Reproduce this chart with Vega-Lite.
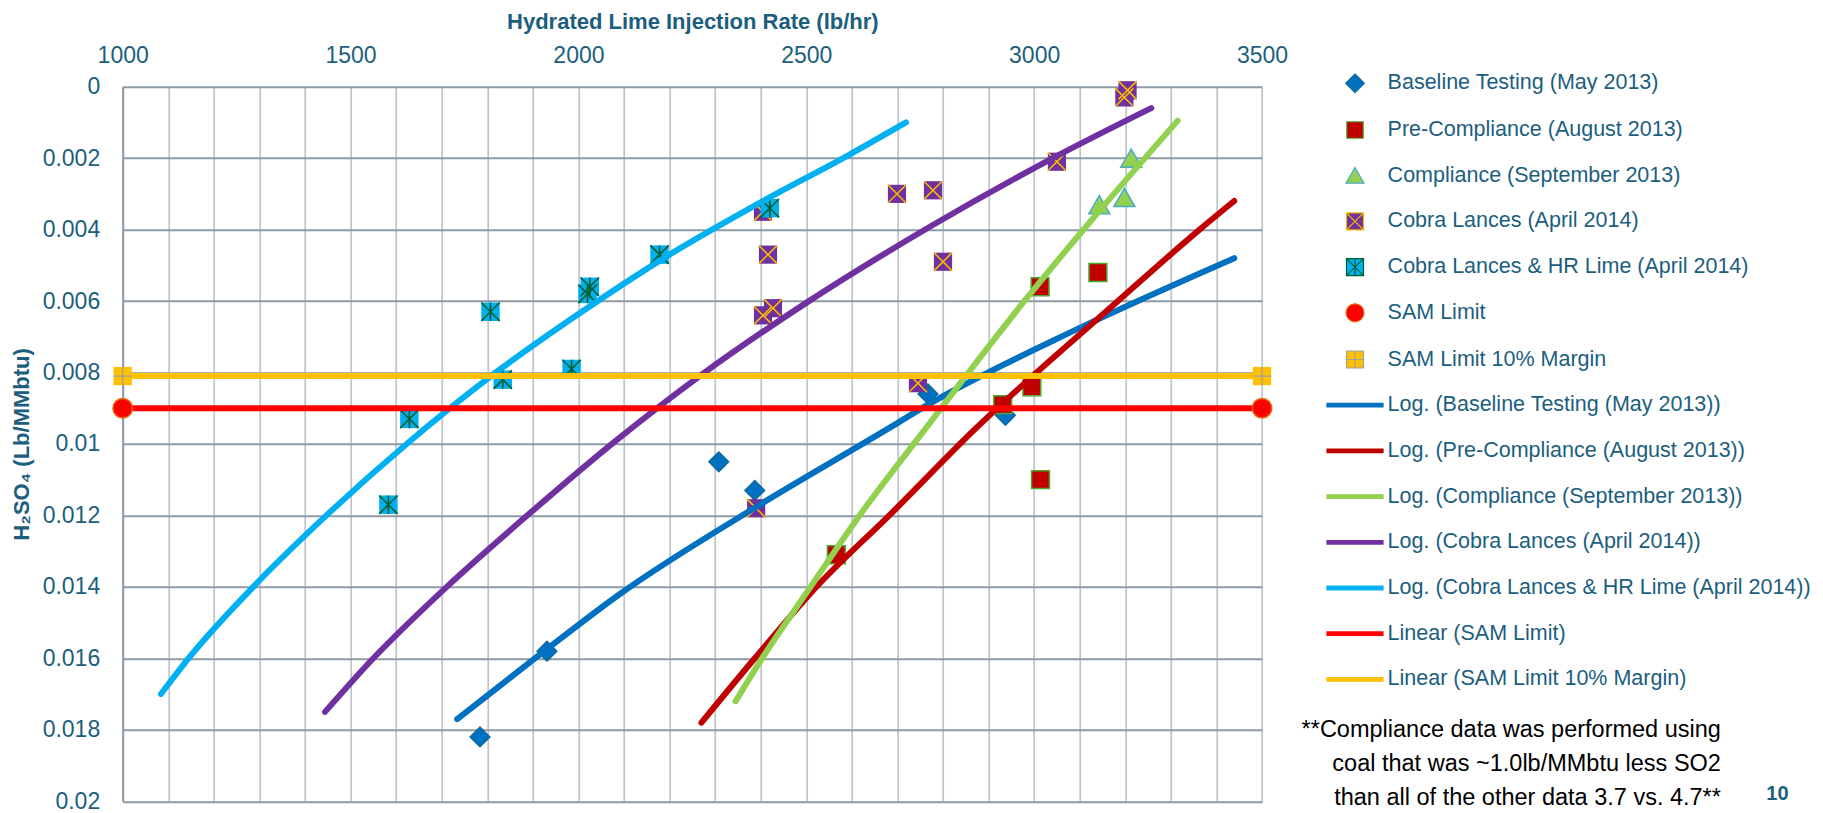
{
  "$schema": "https://vega.github.io/schema/vega-lite/v6.json",
  "width": 1139.3,
  "height": 714.5,
  "autosize": {"type": "none"},
  "padding": {"left": 122.7, "top": 86.7, "right": 561, "bottom": 11.8},
  "background": "white",
  "config": {
    "font": "Liberation Sans",
    "view": {"stroke": null}
  },
  "datasets": {
    "points": [
      {"series": "Baseline Testing (May 2013)", "rate": 1784, "h2so4": 0.0182},
      {"series": "Baseline Testing (May 2013)", "rate": 1931, "h2so4": 0.0158},
      {"series": "Baseline Testing (May 2013)", "rate": 2308, "h2so4": 0.0105},
      {"series": "Baseline Testing (May 2013)", "rate": 2387, "h2so4": 0.0113},
      {"series": "Baseline Testing (May 2013)", "rate": 2767, "h2so4": 0.0086},
      {"series": "Baseline Testing (May 2013)", "rate": 2937, "h2so4": 0.0092},
      {"series": "Pre-Compliance (August 2013)", "rate": 2566, "h2so4": 0.0131},
      {"series": "Pre-Compliance (August 2013)", "rate": 2931, "h2so4": 0.0089},
      {"series": "Pre-Compliance (August 2013)", "rate": 2995, "h2so4": 0.0084},
      {"series": "Pre-Compliance (August 2013)", "rate": 3013, "h2so4": 0.0056},
      {"series": "Pre-Compliance (August 2013)", "rate": 3014, "h2so4": 0.0110},
      {"series": "Pre-Compliance (August 2013)", "rate": 3140, "h2so4": 0.0052},
      {"series": "Compliance (September 2013)", "rate": 3143, "h2so4": 0.0033},
      {"series": "Compliance (September 2013)", "rate": 3198, "h2so4": 0.0031},
      {"series": "Compliance (September 2013)", "rate": 3213, "h2so4": 0.0020},
      {"series": "Cobra Lances (April 2014)", "rate": 2390, "h2so4": 0.0118},
      {"series": "Cobra Lances (April 2014)", "rate": 2405, "h2so4": 0.0035},
      {"series": "Cobra Lances (April 2014)", "rate": 2416, "h2so4": 0.0047},
      {"series": "Cobra Lances (April 2014)", "rate": 2405, "h2so4": 0.0064},
      {"series": "Cobra Lances (April 2014)", "rate": 2427, "h2so4": 0.0062},
      {"series": "Cobra Lances (April 2014)", "rate": 2699, "h2so4": 0.0030},
      {"series": "Cobra Lances (April 2014)", "rate": 2778, "h2so4": 0.0029},
      {"series": "Cobra Lances (April 2014)", "rate": 2745, "h2so4": 0.0083},
      {"series": "Cobra Lances (April 2014)", "rate": 2800, "h2so4": 0.0049},
      {"series": "Cobra Lances (April 2014)", "rate": 3050, "h2so4": 0.0021},
      {"series": "Cobra Lances (April 2014)", "rate": 3198, "h2so4": 0.0003},
      {"series": "Cobra Lances (April 2014)", "rate": 3205, "h2so4": 0.0001},
      {"series": "Cobra Lances & HR Lime (April 2014)", "rate": 1583, "h2so4": 0.0117},
      {"series": "Cobra Lances & HR Lime (April 2014)", "rate": 1629, "h2so4": 0.0093},
      {"series": "Cobra Lances & HR Lime (April 2014)", "rate": 1807, "h2so4": 0.0063},
      {"series": "Cobra Lances & HR Lime (April 2014)", "rate": 1834, "h2so4": 0.0082},
      {"series": "Cobra Lances & HR Lime (April 2014)", "rate": 1985, "h2so4": 0.0079},
      {"series": "Cobra Lances & HR Lime (April 2014)", "rate": 2020, "h2so4": 0.0058},
      {"series": "Cobra Lances & HR Lime (April 2014)", "rate": 2025, "h2so4": 0.0056},
      {"series": "Cobra Lances & HR Lime (April 2014)", "rate": 2178, "h2so4": 0.0047},
      {"series": "Cobra Lances & HR Lime (April 2014)", "rate": 2420, "h2so4": 0.0034},
      {"series": "SAM Limit", "rate": 1000, "h2so4": 0.009},
      {"series": "SAM Limit", "rate": 3500, "h2so4": 0.009},
      {"series": "SAM Limit 10% Margin", "rate": 1000, "h2so4": 0.0081},
      {"series": "SAM Limit 10% Margin", "rate": 3500, "h2so4": 0.0081}
    ],
    "trends": [
      {"series": "Log. (Baseline Testing (May 2013))", "rate": 1734, "h2so4": 0.0177},
      {"series": "Log. (Baseline Testing (May 2013))", "rate": 1915, "h2so4": 0.0159},
      {"series": "Log. (Baseline Testing (May 2013))", "rate": 2091, "h2so4": 0.0142},
      {"series": "Log. (Baseline Testing (May 2013))", "rate": 2398, "h2so4": 0.0117},
      {"series": "Log. (Baseline Testing (May 2013))", "rate": 2676, "h2so4": 0.0096},
      {"series": "Log. (Baseline Testing (May 2013))", "rate": 2767, "h2so4": 0.0089},
      {"series": "Log. (Baseline Testing (May 2013))", "rate": 3092, "h2so4": 0.0068},
      {"series": "Log. (Baseline Testing (May 2013))", "rate": 3439, "h2so4": 0.0048},
      {"series": "Log. (Pre-Compliance (August 2013))", "rate": 2270, "h2so4": 0.0178},
      {"series": "Log. (Pre-Compliance (August 2013))", "rate": 2387, "h2so4": 0.0160},
      {"series": "Log. (Pre-Compliance (August 2013))", "rate": 2515, "h2so4": 0.0141},
      {"series": "Log. (Pre-Compliance (August 2013))", "rate": 2690, "h2so4": 0.0119},
      {"series": "Log. (Pre-Compliance (August 2013))", "rate": 2869, "h2so4": 0.0096},
      {"series": "Log. (Pre-Compliance (August 2013))", "rate": 3184, "h2so4": 0.0060},
      {"series": "Log. (Pre-Compliance (August 2013))", "rate": 3363, "h2so4": 0.0040},
      {"series": "Log. (Pre-Compliance (August 2013))", "rate": 3439, "h2so4": 0.0032},
      {"series": "Log. (Compliance (September 2013))", "rate": 2345, "h2so4": 0.0172},
      {"series": "Log. (Compliance (September 2013))", "rate": 2398, "h2so4": 0.0161},
      {"series": "Log. (Compliance (September 2013))", "rate": 2504, "h2so4": 0.0141},
      {"series": "Log. (Compliance (September 2013))", "rate": 2617, "h2so4": 0.0120},
      {"series": "Log. (Compliance (September 2013))", "rate": 2760, "h2so4": 0.0096},
      {"series": "Log. (Compliance (September 2013))", "rate": 2985, "h2so4": 0.0059},
      {"series": "Log. (Compliance (September 2013))", "rate": 3115, "h2so4": 0.0039},
      {"series": "Log. (Compliance (September 2013))", "rate": 3315, "h2so4": 0.00095},
      {"series": "Log. (Cobra Lances (April 2014))", "rate": 1444, "h2so4": 0.0175},
      {"series": "Log. (Cobra Lances (April 2014))", "rate": 1550, "h2so4": 0.0160},
      {"series": "Log. (Cobra Lances (April 2014))", "rate": 1711, "h2so4": 0.0140},
      {"series": "Log. (Cobra Lances (April 2014))", "rate": 1897, "h2so4": 0.0119},
      {"series": "Log. (Cobra Lances (April 2014))", "rate": 2083, "h2so4": 0.0099},
      {"series": "Log. (Cobra Lances (April 2014))", "rate": 2266, "h2so4": 0.0081},
      {"series": "Log. (Cobra Lances (April 2014))", "rate": 2494, "h2so4": 0.0061},
      {"series": "Log. (Cobra Lances (April 2014))", "rate": 2774, "h2so4": 0.0039},
      {"series": "Log. (Cobra Lances (April 2014))", "rate": 3041, "h2so4": 0.0020},
      {"series": "Log. (Cobra Lances (April 2014))", "rate": 3257, "h2so4": 0.0006},
      {"series": "Log. (Cobra Lances & HR Lime (April 2014))", "rate": 1084, "h2so4": 0.0170},
      {"series": "Log. (Cobra Lances & HR Lime (April 2014))", "rate": 1151, "h2so4": 0.0159},
      {"series": "Log. (Cobra Lances & HR Lime (April 2014))", "rate": 1294, "h2so4": 0.0139},
      {"series": "Log. (Cobra Lances & HR Lime (April 2014))", "rate": 1447, "h2so4": 0.0120},
      {"series": "Log. (Cobra Lances & HR Lime (April 2014))", "rate": 1623, "h2so4": 0.0100},
      {"series": "Log. (Cobra Lances & HR Lime (April 2014))", "rate": 1798, "h2so4": 0.0082},
      {"series": "Log. (Cobra Lances & HR Lime (April 2014))", "rate": 1996, "h2so4": 0.0064},
      {"series": "Log. (Cobra Lances & HR Lime (April 2014))", "rate": 2200, "h2so4": 0.0047},
      {"series": "Log. (Cobra Lances & HR Lime (April 2014))", "rate": 2405, "h2so4": 0.0032},
      {"series": "Log. (Cobra Lances & HR Lime (April 2014))", "rate": 2595, "h2so4": 0.0019},
      {"series": "Log. (Cobra Lances & HR Lime (April 2014))", "rate": 2719, "h2so4": 0.0010},
      {"series": "Linear (SAM Limit)", "rate": 1000, "h2so4": 0.009},
      {"series": "Linear (SAM Limit)", "rate": 3500, "h2so4": 0.009},
      {"series": "Linear (SAM Limit 10% Margin)", "rate": 1000, "h2so4": 0.0081},
      {"series": "Linear (SAM Limit 10% Margin)", "rate": 3500, "h2so4": 0.0081}
    ],
    "note": [
      {"lines": ["**Compliance data was performed using", "coal that was ~1.0lb/MMbtu less SO2", "than all of the other data 3.7 vs. 4.7**"]}
    ],
    "page": [
      {"label": "10"}
    ]
  },
  "layer": [
    {
      "data": {"name": "points"},
      "transform": [{"filter": "datum.series === 'Baseline Testing (May 2013)'"}],
      "mark": {"type": "point", "shape": "diamond", "filled": true, "fill": "#0070C0", "stroke": "#0E6A96", "strokeWidth": 1.3, "size": 400, "opacity": 1},
      "encoding": {
        "x": {
          "field": "rate", "type": "quantitative",
          "scale": {"domain": [1000, 3500], "nice": false, "zero": false},
          "axis": {
            "orient": "top",
            "values": [1000,1100,1200,1300,1400,1500,1600,1700,1800,1900,2000,2100,2200,2300,2400,2500,2600,2700,2800,2900,3000,3100,3200,3300,3400,3500],
            "format": "d",
            "labelExpr": "datum.value % 500 === 0 ? datum.label : ''",
            "grid": true, "gridColor": "#BCC3CA", "gridWidth": 1.7,
            "ticks": false, "domain": false,
            "labelFontSize": 23, "labelColor": "#1B5E7E", "labelPadding": 19,
            "labelOverlap": false, "labelFlush": false, "labelBound": false,
            "title": "Hydrated Lime Injection Rate (lb/hr)",
            "titleFontSize": 22, "titleFontWeight": "bold", "titleColor": "#1B5E7E", "titlePadding": 11
          }
        },
        "y": {
          "field": "h2so4", "type": "quantitative",
          "scale": {"domain": [0, 0.02], "reverse": true, "nice": false, "zero": false},
          "axis": {
            "values": [0,0.002,0.004,0.006,0.008,0.01,0.012,0.014,0.016,0.018,0.02],
            "format": ".3~f",
            "grid": true, "gridColor": "#8E9AA6", "gridWidth": 2,
            "ticks": false, "domain": true, "domainColor": "#8E9AA6", "domainWidth": 2,
            "labelFontSize": 23, "labelColor": "#1B5E7E", "labelPadding": 23,
            "labelOverlap": false, "labelFlush": false, "labelBound": false,
            "title": "H₂SO₄ (Lb/MMbtu)",
            "titleFontSize": 22, "titleFontWeight": "bold", "titleColor": "#1B5E7E", "titlePadding": 8.6
          }
        }
      }
    },
    {
      "data": {"name": "points"},
      "transform": [{"filter": "datum.series === 'Pre-Compliance (August 2013)'"}],
      "mark": {"type": "point", "shape": "square", "filled": true, "fill": "#C00000", "stroke": "#4EA72E", "strokeWidth": 1.5, "size": 320, "opacity": 1},
      "encoding": {
        "x": {"field": "rate", "type": "quantitative"},
        "y": {"field": "h2so4", "type": "quantitative"}
      }
    },
    {
      "data": {"name": "points"},
      "transform": [{"filter": "datum.series === 'Compliance (September 2013)'"}],
      "mark": {"type": "point", "shape": "triangle-up", "filled": true, "fill": "#92D050", "stroke": "#4BACC6", "strokeWidth": 1.5, "size": 440, "opacity": 1},
      "encoding": {
        "x": {"field": "rate", "type": "quantitative"},
        "y": {"field": "h2so4", "type": "quantitative"}
      }
    },
    {
      "data": {"name": "points"},
      "transform": [{"filter": "datum.series === 'Cobra Lances (April 2014)'"}],
      "mark": {"type": "point", "shape": "square", "filled": true, "fill": "#7030A0", "strokeWidth": 0, "size": 330, "opacity": 1},
      "encoding": {
        "x": {"field": "rate", "type": "quantitative"},
        "y": {"field": "h2so4", "type": "quantitative"}
      }
    },
    {
      "data": {"name": "points"},
      "transform": [{"filter": "datum.series === 'Cobra Lances (April 2014)'"}],
      "mark": {"type": "point", "shape": "M-1,-1L1,1M1,-1L-1,1", "filled": false, "stroke": "#F5B800", "strokeWidth": 1.6, "size": 330, "opacity": 1},
      "encoding": {
        "x": {"field": "rate", "type": "quantitative"},
        "y": {"field": "h2so4", "type": "quantitative"}
      }
    },
    {
      "data": {"name": "points"},
      "transform": [{"filter": "datum.series === 'Cobra Lances & HR Lime (April 2014)'"}],
      "mark": {"type": "point", "shape": "square", "filled": true, "fill": "#00B0F0", "strokeWidth": 0, "size": 340, "opacity": 1},
      "encoding": {
        "x": {"field": "rate", "type": "quantitative"},
        "y": {"field": "h2so4", "type": "quantitative"}
      }
    },
    {
      "data": {"name": "points"},
      "transform": [{"filter": "datum.series === 'Cobra Lances & HR Lime (April 2014)'"}],
      "mark": {"type": "point", "shape": "M-1,-1L1,1M1,-1L-1,1M0,-1L0,1", "filled": false, "stroke": "#00602B", "strokeWidth": 1.6, "size": 340, "opacity": 1},
      "encoding": {
        "x": {"field": "rate", "type": "quantitative"},
        "y": {"field": "h2so4", "type": "quantitative"}
      }
    },
    {
      "data": {"name": "points"},
      "transform": [{"filter": "false"}],
      "mark": {"type": "point", "opacity": 1, "strokeWidth": 1.2},
      "encoding": {
        "fill": {
          "field": "series", "type": "nominal",
          "scale": {
            "domain": ["Baseline Testing (May 2013)", "Pre-Compliance (August 2013)", "Compliance (September 2013)", "Cobra Lances (April 2014)", "Cobra Lances & HR Lime (April 2014)", "SAM Limit", "SAM Limit 10% Margin", "Log. (Baseline Testing (May 2013))", "Log. (Pre-Compliance (August 2013))", "Log. (Compliance (September 2013))", "Log. (Cobra Lances (April 2014))", "Log. (Cobra Lances & HR Lime (April 2014))", "Linear (SAM Limit)", "Linear (SAM Limit 10% Margin)"],
            "range": ["#0070C0", "#C00000", "#92D050", "#7030A0", "#00B0F0", "#FF0000", "#FFC000", "#0070C0", "#C00000", "#92D050", "#7030A0", "#00B0F0", "#FF0000", "#FFC000"]
          },
          "legend": {
            "orient": "none", "legendX": 1216.3, "legendY": -19.4,
            "title": null, "padding": 0,
            "symbolSize": 900, "symbolStrokeWidth": 1.2, "symbolOpacity": 1, "rowPadding": 18.7,
            "labelFontSize": 21.5, "labelColor": "#1B5E7E", "labelOffset": 16.6, "labelLimit": 0
          }
        },
        "shape": {
          "field": "series", "type": "nominal",
          "scale": {
            "domain": ["Baseline Testing (May 2013)", "Pre-Compliance (August 2013)", "Compliance (September 2013)", "Cobra Lances (April 2014)", "Cobra Lances & HR Lime (April 2014)", "SAM Limit", "SAM Limit 10% Margin", "Log. (Baseline Testing (May 2013))", "Log. (Pre-Compliance (August 2013))", "Log. (Compliance (September 2013))", "Log. (Cobra Lances (April 2014))", "Log. (Cobra Lances & HR Lime (April 2014))", "Linear (SAM Limit)", "Linear (SAM Limit 10% Margin)"],
            "range": [
              "M0,-0.62L0.62,0L0,0.62L-0.62,0Z",
              "M-0.55,-0.55H0.55V0.55H-0.55Z",
              "M0,-0.55L0.6,0.5L-0.6,0.5Z",
              "M-0.567,-0.567H0.567V0.567H-0.567ZM-0.567,-0.567L0.567,0.567M0.567,-0.567L-0.567,0.567",
              "M-0.567,-0.567H0.567V0.567H-0.567ZM-0.567,-0.567L0.567,0.567M0.567,-0.567L-0.567,0.567M0,-0.567L0,0.567",
              "M-0.6,0A0.6,0.6 0 1,0 0.6,0A0.6,0.6 0 1,0 -0.6,0Z",
              "M-0.567,-0.567H0.567V0.567H-0.567ZM-0.567,0L0.567,0M0,-0.567L0,0.567",
              "M-1.867,-0.12H1.867V0.12H-1.867Z",
              "M-1.867,-0.12H1.867V0.12H-1.867Z",
              "M-1.867,-0.12H1.867V0.12H-1.867Z",
              "M-1.867,-0.12H1.867V0.12H-1.867Z",
              "M-1.867,-0.12H1.867V0.12H-1.867Z",
              "M-1.867,-0.12H1.867V0.12H-1.867Z",
              "M-1.867,-0.12H1.867V0.12H-1.867Z"
            ]
          },
          "legend": {
            "orient": "none", "legendX": 1216.3, "legendY": -19.4,
            "title": null, "padding": 0,
            "symbolSize": 900, "symbolStrokeWidth": 1.2, "symbolOpacity": 1, "rowPadding": 18.7,
            "labelFontSize": 21.5, "labelColor": "#1B5E7E", "labelOffset": 16.6, "labelLimit": 0
          }
        },
        "stroke": {
          "field": "series", "type": "nominal",
          "scale": {
            "domain": ["Baseline Testing (May 2013)", "Pre-Compliance (August 2013)", "Compliance (September 2013)", "Cobra Lances (April 2014)", "Cobra Lances & HR Lime (April 2014)", "SAM Limit", "SAM Limit 10% Margin", "Log. (Baseline Testing (May 2013))", "Log. (Pre-Compliance (August 2013))", "Log. (Compliance (September 2013))", "Log. (Cobra Lances (April 2014))", "Log. (Cobra Lances & HR Lime (April 2014))", "Linear (SAM Limit)", "Linear (SAM Limit 10% Margin)"],
            "range": ["#0E6A96", "#4EA72E", "#4BACC6", "#F5B800", "#00602B", "#E46C0A", "#A0A0A0", "#0070C0", "#C00000", "#92D050", "#7030A0", "#00B0F0", "#FF0000", "#FFC000"]
          },
          "legend": {
            "orient": "none", "legendX": 1216.3, "legendY": -19.4,
            "title": null, "padding": 0,
            "symbolSize": 900, "symbolStrokeWidth": 1.2, "symbolOpacity": 1, "rowPadding": 18.7,
            "labelFontSize": 21.5, "labelColor": "#1B5E7E", "labelOffset": 16.6, "labelLimit": 0
          }
        }
      }
    },
    {
      "data": {"name": "trends"},
      "mark": {"type": "line", "strokeWidth": 6, "strokeCap": "round", "interpolate": "monotone"},
      "encoding": {
        "x": {"field": "rate", "type": "quantitative"},
        "y": {"field": "h2so4", "type": "quantitative"},
        "stroke": {
          "field": "series", "type": "nominal",
          "legend": {
            "orient": "none", "legendX": 1216.3, "legendY": -19.4,
            "title": null, "padding": 0,
            "symbolSize": 900, "symbolStrokeWidth": 1.2, "symbolOpacity": 1, "rowPadding": 18.7,
            "labelFontSize": 21.5, "labelColor": "#1B5E7E", "labelOffset": 16.6, "labelLimit": 0
          }
        }
      }
    },
    {
      "data": {"name": "points"},
      "transform": [{"filter": "datum.series === 'SAM Limit'"}],
      "mark": {"type": "point", "shape": "circle", "filled": true, "fill": "#FF0000", "stroke": "#E46C0A", "strokeWidth": 1.5, "size": 380, "opacity": 1},
      "encoding": {
        "x": {"field": "rate", "type": "quantitative"},
        "y": {"field": "h2so4", "type": "quantitative"}
      }
    },
    {
      "data": {"name": "points"},
      "transform": [{"filter": "datum.series === 'SAM Limit 10% Margin'"}],
      "mark": {"type": "point", "shape": "square", "filled": true, "fill": "#FFC000", "strokeWidth": 0, "size": 335, "opacity": 1},
      "encoding": {
        "x": {"field": "rate", "type": "quantitative"},
        "y": {"field": "h2so4", "type": "quantitative"}
      }
    },
    {
      "data": {"name": "points"},
      "transform": [{"filter": "datum.series === 'SAM Limit 10% Margin'"}],
      "mark": {"type": "point", "shape": "M-1,0L1,0M0,-1L0,1", "filled": false, "stroke": "#A0A0A0", "strokeWidth": 1.3, "size": 335, "opacity": 1},
      "encoding": {
        "x": {"field": "rate", "type": "quantitative"},
        "y": {"field": "h2so4", "type": "quantitative"}
      }
    },
    {
      "data": {"name": "note"},
      "mark": {"type": "text", "align": "right", "baseline": "alphabetic", "fontSize": 23.5, "lineHeight": 34.3, "color": "#000000"},
      "encoding": {
        "x": {"datum": 4507, "type": "quantitative"},
        "y": {"datum": 0.0182, "type": "quantitative"},
        "text": {"field": "lines", "type": "nominal"}
      }
    },
    {
      "data": {"name": "page"},
      "mark": {"type": "text", "align": "center", "baseline": "alphabetic", "fontSize": 20, "fontWeight": "bold", "color": "#1B5E7E"},
      "encoding": {
        "x": {"datum": 4631, "type": "quantitative"},
        "y": {"datum": 0.01997, "type": "quantitative"},
        "text": {"field": "label", "type": "nominal"}
      }
    }
  ]
}
